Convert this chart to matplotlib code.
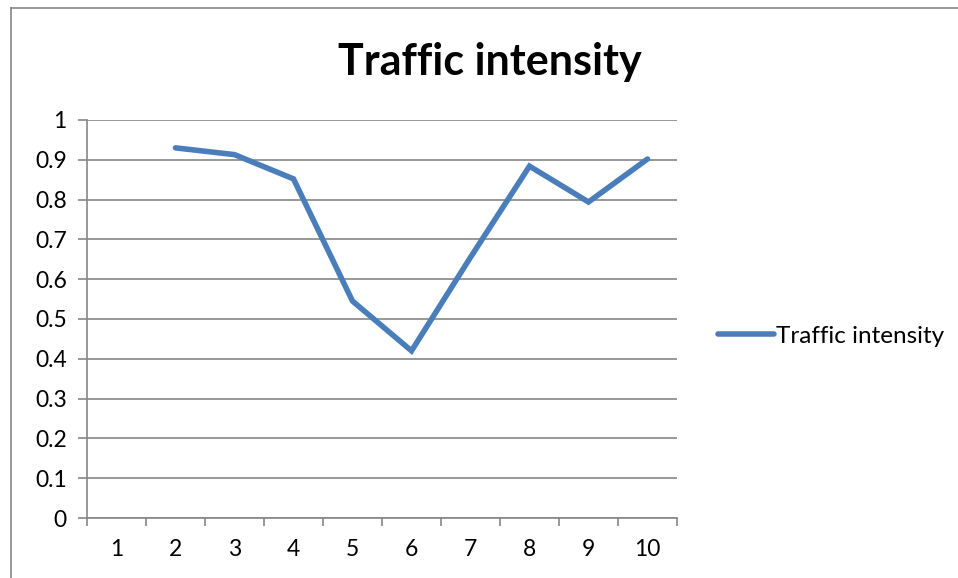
import numpy as np
import matplotlib.pyplot as plt
from matplotlib.lines import Line2D

plt.rcParams['font.family'] = ['Lato', 'DejaVu Sans']

categories = [1, 2, 3, 4, 5, 6, 7, 8, 9, 10]
# first category has no value
intensity = [np.nan, 0.93, 0.913, 0.852, 0.545, 0.42, 0.655, 0.884, 0.794, 0.902]
y_ticks = [0, 0.1, 0.2, 0.3, 0.4, 0.5, 0.6, 0.7, 0.8, 0.9, 1]
y_labels = ['0', '0.1', '0.2', '0.3', '0.4', '0.5', '0.6', '0.7', '0.8', '0.9', '1']

grey = '#868686'
blue = '#4A7EBB'

fig = plt.figure(figsize=(9.58, 5.78), dpi=100)
ax = fig.add_axes([0.0908, 0.1038, 0.6159, 0.6886])

ax.plot(categories, intensity, color=blue, lw=4, solid_capstyle='round',
        solid_joinstyle='miter', label='Traffic intensity')

ax.set_xlim(0.5, 10.5)
ax.set_ylim(0, 1)
ax.set_yticks(y_ticks)
ax.set_yticklabels(y_labels)
ax.yaxis.grid(True, color=grey, lw=1.2)
ax.set_axisbelow(True)

# tick marks sit between categories, labels at the centres
ax.set_xticks(np.arange(0.5, 11, 1))
ax.set_xticklabels([])
ax.set_xticks(categories, minor=True)
ax.set_xticklabels([str(c) for c in categories], minor=True)
ax.tick_params(axis='x', which='major', length=5.5, width=1.2, color=grey)
ax.tick_params(axis='x', which='minor', length=0, pad=15, labelsize=16.5)
ax.tick_params(axis='y', length=6.5, width=1.2, color=grey, pad=8, labelsize=16.5)

for side in ['top', 'right']:
    ax.spines[side].set_visible(False)
for side in ['left', 'bottom']:
    ax.spines[side].set_color(grey)
    ax.spines[side].set_linewidth(1.2)

fig.text(0.511, 0.893, 'Traffic intensity', ha='center', va='center',
         fontsize=31, fontweight='bold')

fig.legend(loc='center left', bbox_to_anchor=(0.7265, 0.418), frameon=False,
           fontsize=17.5, handlelength=2.3, handletextpad=0.1)

# chart border
fig.add_artist(Line2D([0.011, 0.011], [0, 0.986], color=grey, lw=1.2))
fig.add_artist(Line2D([0.011, 1], [0.986, 0.986], color=grey, lw=1.2))

fig.savefig('out.png', dpi=100)
